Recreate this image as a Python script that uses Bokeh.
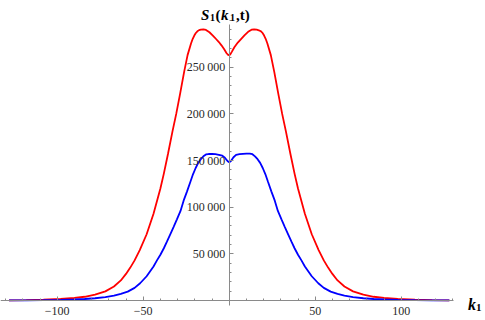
from bokeh.plotting import figure
from bokeh.models import FixedTicker, Label
from bokeh.embed import file_html
from bokeh.resources import INLINE

# ---- data ----
k_red = [-128, -118, -108, -98, -90, -84, -78, -72, -67, -63, -60, -57.6, -55, -52, -48, -44, -40, -38,
         -35.6, -33, -30.8, -28.5, -26.2, -24.2, -22.2, -21.2, -20.3, -19.4, -18.5, -17.5, -16.5, -15,
         -13.5, -11.5, -9.5, -7.5, -6, -4.5, -3, -1.5, -0.5, 0.5, 1.5, 3, 5, 7, 9, 11, 13, 14.5, 16,
         17.2, 18.5, 19.4, 20.3, 21.2, 22.2, 24.2, 26.2, 28.5, 30.8, 33, 35.6, 38, 40, 44, 48, 52, 55,
         57.6, 60, 63, 67, 72, 78, 84, 90, 98, 108, 118, 128]
s_red = [150, 350, 800, 1600, 2700, 4000, 6200, 9800, 15000, 21500, 28500, 35000, 43000, 54000, 71000,
         93000, 120000, 136000, 157000, 181000, 200000, 222000, 245000, 263000, 275500, 280500, 284000,
         286700, 288500, 289800, 290400, 290600, 290000, 287500, 284000, 280000, 277000, 273500,
         269500, 265000, 263000, 263500, 266500, 271500, 276500, 280500, 284500, 288000, 290300,
         290600, 290300, 289600, 288500, 286700, 284000, 280500, 275500, 263000, 245000, 222000,
         200000, 181000, 157000, 136000, 120000, 93000, 71000, 54000, 43000, 35000, 28500, 21500,
         15000, 9800, 6200, 4000, 2700, 1600, 800, 350, 150]

k_blue = [-128, -118, -108, -98, -90, -84, -78, -72, -67, -63, -59, -55, -51.8, -48, -44, -42, -40, -38,
          -36.2, -34, -32.3, -30.4, -28.3, -26.5, -24.5, -22.5, -21, -19.5, -18, -16.5, -15, -13.5, -12,
          -10, -8, -6, -4, -2.5, -1, 0, 1, 2.5, 4, 6, 8, 10, 12, 13.5, 15, 16.5, 18, 19.5, 21, 22.5,
          24.5, 26.5, 28.3, 30.4, 32.3, 34, 36.2, 38, 40, 42, 44, 48, 51.8, 55, 59, 63, 67, 72, 78, 84,
          90, 98, 108, 118, 128]
s_blue = [60, 150, 320, 650, 1100, 1600, 2400, 3600, 5200, 7100, 9500, 13500, 18500, 26000, 36500, 43000,
          49000, 56000, 63000, 72000, 79000, 87000, 96000, 107000, 117000, 127500, 135500, 142000,
          147500, 151500, 154500, 156500, 157000, 157000, 156800, 156200, 155200, 153000, 149500,
          148000, 149500, 153500, 156000, 156800, 157200, 157500, 157500, 156800, 154500, 151500,
          147500, 142000, 135500, 127500, 117000, 107000, 96000, 87000, 79000, 72000, 63000, 56000,
          49000, 43000, 36500, 26000, 18500, 13500, 9500, 7100, 5200, 3600, 2400, 1600, 1100, 650, 320,
          150, 60]

x_ticks = [-100, -50, 50, 100]
x_tick_labels = ["\u2212100", "\u221250", "50", "100"]
x_minor = list(range(-130, 131, 10))
y_ticks = [50000, 100000, 150000, 200000, 250000]
y_tick_labels = ["50\u2009000", "100\u2009000", "150\u2009000", "200\u2009000", "250\u2009000"]
y_minor = list(range(0, 300001, 10000))

W, H = 485, 320
X0, XS = 228.7, 1.72          # canvas x of k=0, px per unit
Y0, YS = 300.0, 0.000933      # canvas y of S=0, px per unit
SERIF = "Liberation Serif"


def dx(cx):
    return (cx - X0) / XS


def dy(cy):
    return (Y0 - cy) / YS


p = figure(width=W, height=H, output_backend="svg", toolbar_location=None, title=None,
           x_range=(dx(0), dx(W)), y_range=(dy(H), dy(0)),
           min_border=0, min_border_left=0, min_border_right=0, min_border_top=0, min_border_bottom=0)
p.outline_line_color = None
p.grid.visible = False
p.background_fill_color = "white"
p.border_fill_color = "white"

p.line(k_red, s_red, line_color="#ff0000", line_width=1.8)
p.line(k_blue, s_blue, line_color="#0000ff", line_width=1.8)

axis_col = "#8a8a8a"
lab_col = "#2a2a2a"
for ax in (p.xaxis[0], p.yaxis[0]):
    ax.fixed_location = 0
    ax.axis_line_color = axis_col
    ax.major_tick_line_color = axis_col
    ax.minor_tick_line_color = axis_col
    ax.major_tick_in = 4
    ax.major_tick_out = 0
    ax.minor_tick_in = 2
    ax.minor_tick_out = 0
    ax.major_label_text_font = SERIF
    ax.major_label_text_font_style = "normal"
    ax.major_label_text_font_size = "12px"
    ax.major_label_text_color = lab_col

p.xaxis.ticker = FixedTicker(ticks=x_ticks, minor_ticks=x_minor)
p.xaxis.major_label_overrides = dict(zip(x_ticks, x_tick_labels))
p.xaxis.bounds = (-133, 130.5)
p.xaxis.major_label_standoff = 6

p.yaxis.ticker = FixedTicker(ticks=y_ticks, minor_ticks=y_minor)
p.yaxis.major_label_overrides = dict(zip(y_ticks, y_tick_labels))
p.yaxis.bounds = (dy(305), 296000)
p.yaxis.major_label_standoff = 4


def lab(text, cx, cy, size, style):
    p.add_layout(Label(x=dx(cx), y=dy(cy), text=text, text_font=SERIF,
                       text_font_size=size, text_font_style=style, text_color="black",
                       text_baseline="alphabetic", text_align="left"))


# title  S1(k1,t)
tb = 14
lab("S", 200.5, tb, "15px", "bold italic")
lab("1", 209.5, tb + 3, "10px", "bold")
lab("(", 215, tb, "15px", "bold")
lab("k", 220.5, tb, "15px", "bold italic")
lab("1", 229.5, tb + 3, "10px", "bold")
lab(",t)", 235.5, tb, "15px", "bold")

# axis label k1
lab("k", 467.5, 304, "16px", "bold italic")
lab("1", 475.5, 307, "11px", "bold")

open("out.html", "w").write(file_html(p, INLINE))
